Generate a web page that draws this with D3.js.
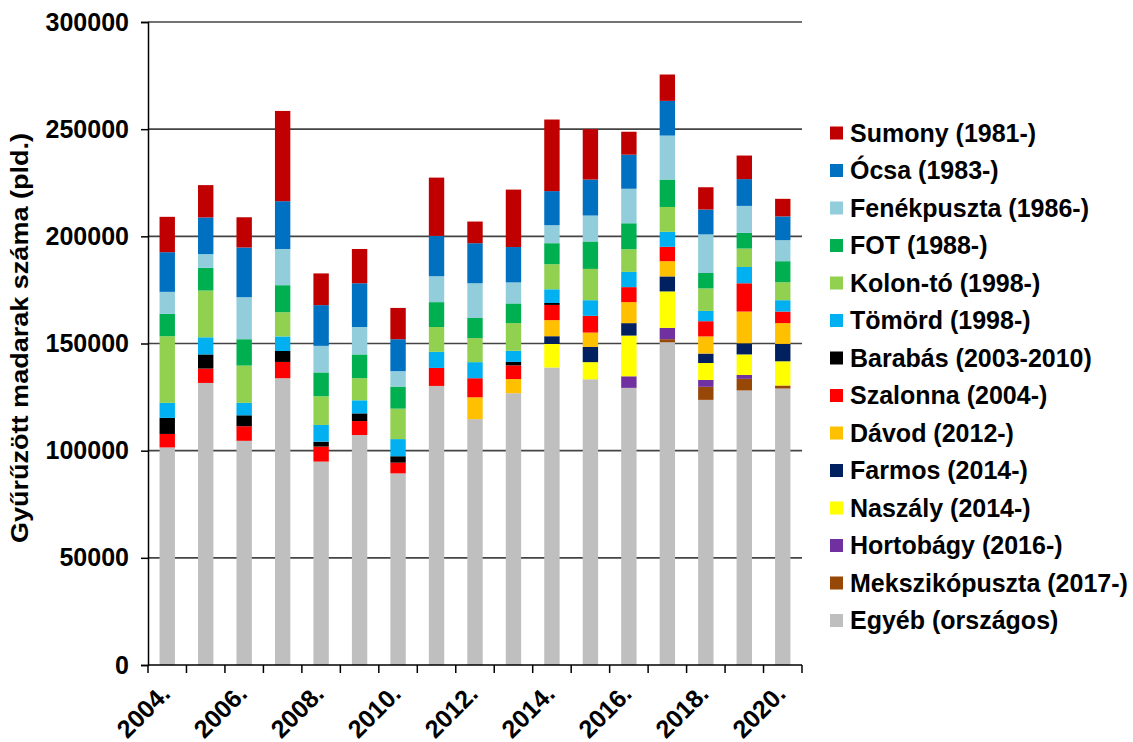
<!DOCTYPE html>
<html><head><meta charset="utf-8">
<script src="https://cdn.jsdelivr.net/npm/d3@7"></script>
<style>
body{margin:0;background:#fff;}
svg text{font-family:"Liberation Sans",Arial,sans-serif;font-weight:bold;fill:#000;}
</style></head>
<body><svg id="c" width="1133" height="742"></svg>
<script>
const years = ["2004.","2005.","2006.","2007.","2008.","2009.","2010.","2011.","2012.","2013.","2014.","2015.","2016.","2017.","2018.","2019.","2020."];
const yTicks = [0,50000,100000,150000,200000,250000,300000];

const egyeb   = [101500,131600,104600,133800,94900,107300,89400,130200,114700,126800,138800,133300,129300,150600,123700,128100,129000];
const meksz   = [0,0,0,0,0,0,0,0,0,0,0,0,0,1400,6100,5400,1400];
const hort    = [0,0,0,0,0,0,0,0,0,0,0,0,5400,5300,3200,1800,0];
const nasz    = [0,0,0,0,0,0,0,0,0,0,11000,8000,19000,17000,7900,9600,11300];
const farmos  = [0,0,0,0,0,0,0,0,0,0,3600,7100,5800,7000,4400,5200,8100];
const davod   = [0,0,0,0,0,0,0,0,10200,6600,7500,6700,9800,7100,8000,14800,9700];
const szal    = [6300,6700,6800,7600,7000,6500,5000,8400,8900,6400,7100,7800,7000,6700,7100,13200,5400];
const barab   = [7500,6600,5100,5100,2300,3600,3000,0,0,1600,900,0,0,0,0,0,0];
const tomord  = [7000,8000,5800,6800,7800,6100,8000,7500,7500,5200,6400,7300,7100,7000,4800,7600,5300];
const kolon   = [31100,21800,17400,11300,13400,10300,14200,11600,11200,12900,11700,14600,10600,11600,10500,8600,8400];
const fot     = [10400,10600,12300,12600,11100,11100,10300,11600,9400,9200,9800,12800,12100,12800,7200,7300,9800];
const fenek   = [10300,6400,19600,16900,12400,12800,7200,12100,16200,9800,8400,12100,16100,20500,18000,12600,9800];
const ocsa    = [18500,17100,23200,22300,19000,20400,14900,18800,18700,16500,15900,16800,15900,16200,11600,12500,11100];
const sumony  = [16500,15100,14100,42100,14800,16000,14600,27200,10100,26800,33400,23500,10700,12300,10400,11000,8200];

const seriesNames = ["Egyéb (országos)","Mekszikópuszta (2017-)","Hortobágy (2016-)","Naszály (2014-)","Farmos (2014-)","Dávod (2012-)","Szalonna (2004-)","Barabás (2003-2010)","Tömörd (1998-)","Kolon-tó (1998-)","FOT (1988-)","Fenékpuszta (1986-)","Ócsa (1983-)","Sumony (1981-)"];
const seriesValues = [egyeb,meksz,hort,nasz,farmos,davod,szal,barab,tomord,kolon,fot,fenek,ocsa,sumony];
const seriesColors = ["#BFBFBF","#974706","#7030A0","#FFFF00","#002060","#FFC000","#FF0000","#000000","#00B0F0","#92D050","#00B050","#92CDDC","#0070C0","#C00000"];

const svg = d3.select("#c");
const L=148, R=802, T=22, B=665;
const keys = seriesNames;
const table = years.map((y,i)=>{const o={year:y}; keys.forEach((k,j)=>o[k]=seriesValues[j][i]); return o;});
const stack = d3.stack().keys(keys)(table);

const x = d3.scaleBand().domain(years).range([L,R]).paddingInner(0.6).paddingOuter(0.3);
const y = d3.scaleLinear().domain([0,300000]).range([B,T]);

// gridlines
svg.append("g").selectAll("line").data(yTicks.filter(d=>d>0)).join("line")
  .attr("x1",L).attr("x2",R).attr("y1",d=>y(d)).attr("y2",d=>y(d))
  .attr("stroke","#444").attr("stroke-width",1.6);

// bars
svg.append("g").selectAll("g").data(stack).join("g")
  .attr("fill",(d,i)=>seriesColors[i])
  .selectAll("rect").data(d=>d).join("rect")
  .attr("x",d=>x(d.data.year)).attr("width",x.bandwidth())
  .attr("y",d=>y(d[1])).attr("height",d=>Math.max(0,y(d[0])-y(d[1])));

// y axis
const yAx = svg.append("g").attr("transform",`translate(${L},0)`)
  .call(d3.axisLeft(y).tickValues(yTicks).tickFormat(d3.format("d")).tickSize(7).tickPadding(12));
yAx.select(".domain").attr("stroke","#000").attr("stroke-width",1.5);
yAx.selectAll(".tick line").attr("stroke","#000").attr("stroke-width",1.5);
yAx.selectAll("text").style("font-size","25px").style("font-family","Liberation Sans, Arial, sans-serif").style("font-weight","bold");

// x axis line and ticks at category boundaries
svg.append("line").attr("x1",L).attr("x2",R).attr("y1",B).attr("y2",B).attr("stroke","#000").attr("stroke-width",1.5);
const bounds = years.map((v,i)=>L + i*x.step());
bounds.push(R);
svg.append("g").selectAll("line").data(bounds).join("line")
  .attr("x1",d=>d).attr("x2",d=>d).attr("y1",B).attr("y2",B+8).attr("stroke","#000").attr("stroke-width",1.5);

// x labels every other year
svg.append("g").selectAll("text").data(years.filter((d,i)=>i%2===0)).join("text")
  .attr("transform",d=>`translate(${x(d)+x.bandwidth()/2-8},${B+18}) rotate(-45)`)
  .attr("text-anchor","end").attr("dy","0.7em")
  .style("font-size","25px").text(d=>d);

// y label
svg.append("text").attr("transform",`translate(28,338) rotate(-90)`)
  .attr("text-anchor","middle").style("font-size","23px")
  .attr("textLength",410).attr("lengthAdjust","spacingAndGlyphs")
  .text("Gyűrűzött madarak száma (pld.)");

// legend
const legOrder = seriesNames.map((n,i)=>i).reverse();
const lg = svg.append("g").selectAll("g").data(legOrder).join("g")
  .attr("transform",(d,i)=>`translate(830,${133 + i*37.5})`);
lg.append("rect").attr("x",0).attr("y",-6.5).attr("width",13).attr("height",13).attr("fill",d=>seriesColors[d]);
lg.append("text").attr("x",20).attr("y",0).attr("dy","0.35em").style("font-size","25px").text(d=>seriesNames[d]);
</script></body></html>
